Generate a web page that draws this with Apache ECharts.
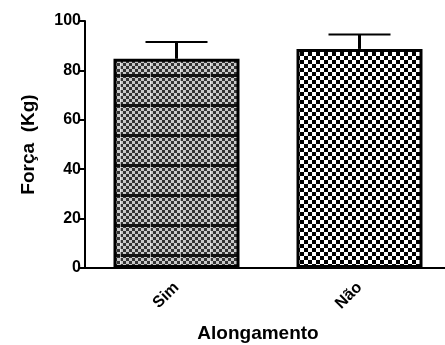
<!DOCTYPE html>
<html>
<head>
<meta charset="utf-8">
<script src="https://cdn.jsdelivr.net/npm/echarts@6/dist/echarts.min.js"></script>
<style>
  html, body { margin: 0; padding: 0; background: #fff; }
  #chart { width: 445px; height: 345px; }
</style>
</head>
<body>
<div id="chart"></div>
<script>
const categories = ['Sim', 'Não']
const means = [84.7, 88.7]
const errors = [6.8, 5.8]
const yTicks = [0, 20, 40, 60, 80, 100]

const font = 'Liberation Sans, Arial, sans-serif'

// fine grey checker with dark horizontal bands (Sim)
function finePattern() {
	const c = document.createElement('canvas')
	c.width = 30
	c.height = 30
	const ctx = c.getContext('2d')
	ctx.fillStyle = '#c8c8c8'
	ctx.fillRect(0, 0, 30, 30)
	ctx.fillStyle = '#333'
	for (let i = 0; i < 10; i++) {
		for (let j = 0; j < 10; j++) {
			if ((i + j) % 2 === 0) ctx.fillRect(i * 3, j * 3, 3, 3)
		}
	}
	ctx.fillStyle = '#111'
	ctx.fillRect(0, 14, 30, 3)
	ctx.fillStyle = 'rgba(255,255,255,0.6)'
	ctx.fillRect(0, 0, 1, 30)
	return c
}

// coarse black/white checker (Não)
function coarsePattern() {
	const c = document.createElement('canvas')
	c.width = 8
	c.height = 8
	const ctx = c.getContext('2d')
	ctx.fillStyle = '#fff'
	ctx.fillRect(0, 0, 8, 8)
	ctx.fillStyle = '#000'
	ctx.fillRect(0, 0, 4, 4)
	ctx.fillRect(4, 4, 4, 4)
	return c
}

const patterns = [finePattern(), coarsePattern()]

const myChart = echarts.init(document.getElementById('chart'))

const option = {
	animation: false,
	grid: { left: 85, top: 21, bottom: 77, right: -6, containLabel: false, outerBoundsMode: 'none' },
	xAxis: {
		type: 'category',
		data: categories,
		name: 'Alongamento',
		nameLocation: 'middle',
		nameGap: 56,
		nameTextStyle: { fontFamily: font, fontWeight: 'bold', fontSize: 19, color: '#000', padding: [0, 20, 0, 0] },
		axisLine: { lineStyle: { color: '#000', width: 2 } },
		axisTick: { alignWithLabel: true, length: 6, lineStyle: { color: '#000', width: 2 } },
		axisLabel: { rotate: 45, margin: 17, fontFamily: font, fontWeight: 'bold', fontSize: 16, color: '#000' }
	},
	yAxis: {
		type: 'value',
		min: yTicks[0],
		max: yTicks[yTicks.length - 1],
		interval: 20,
		name: 'Força  (Kg)',
		nameLocation: 'middle',
		nameRotate: 90,
		nameGap: 47,
		nameTextStyle: { fontFamily: font, fontWeight: 'bold', fontSize: 19, color: '#000' },
		axisLine: { show: true, lineStyle: { color: '#000', width: 2 } },
		axisTick: { show: true, length: 6, lineStyle: { color: '#000', width: 2 } },
		axisLabel: { margin: 4, fontFamily: font, fontWeight: 'bold', fontSize: 16, color: '#000' },
		splitLine: { show: false }
	},
	series: [
		{
			type: 'custom',
			z: 1,
			data: categories.map((c, i) => [i, means[i], means[i] + errors[i]]),
			renderItem: function (params, api) {
				const base = api.coord([api.value(0), api.value(1)])
				const top = api.coord([api.value(0), api.value(2)])
				const half = 31
				return {
					type: 'group',
					children: [
						{ type: 'line', shape: { x1: base[0], y1: base[1], x2: top[0], y2: top[1] }, style: { stroke: '#000', lineWidth: 3 } },
						{ type: 'line', shape: { x1: top[0] - half, y1: top[1], x2: top[0] + half, y2: top[1] }, style: { stroke: '#000', lineWidth: 2 } }
					]
				}
			}
		},
		{
			type: 'bar',
			z: 2,
			barWidth: 126,
			data: means.map((v, i) => ({
				value: v,
				itemStyle: { color: { image: patterns[i], repeat: 'repeat' } }
			})),
			itemStyle: { borderColor: '#000', borderWidth: 3 }
		}
	]
}

option && myChart.setOption(option)
</script>
</body>
</html>
